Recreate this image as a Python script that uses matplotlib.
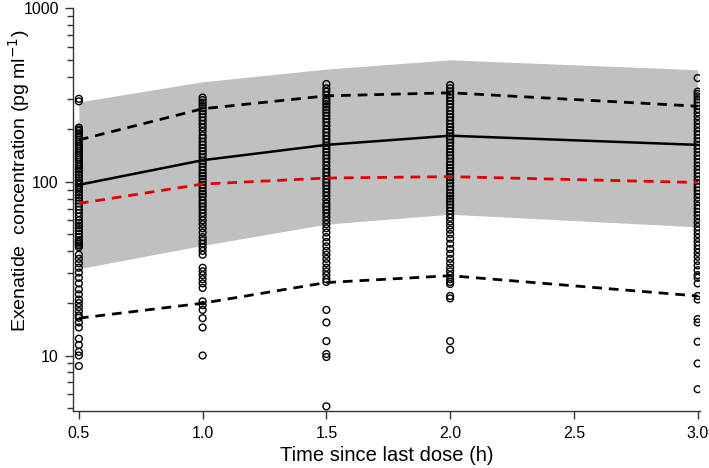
import numpy as np
import matplotlib
matplotlib.use('Agg')
import matplotlib.pyplot as plt
from matplotlib.ticker import LogLocator, NullFormatter, FixedLocator

plt.rcParams['font.family'] = ['Liberation Sans', 'DejaVu Sans']

# time points (h)
times = [0.5, 1.0, 1.5, 2.0, 3.0]

# prediction band and percentiles (pg/ml)
band_low = [31.6, 43, 57, 65, 55]
band_high = [288, 376, 445, 503, 441]
pct_median = [96, 133, 163, 184, 163]
pct_low = [16.4, 20, 26.3, 28.8, 22]
pct_high = [174, 263, 312, 325, 272]
pop_pred = [75, 97, 105, 107, 99]

# observed concentrations at each sampling time
obs_05 = [300, 290, 205, 200, 196, 190, 185, 180, 175, 170, 165, 160, 155, 150, 146,
          142, 138, 134, 130, 126, 122, 118, 114, 110, 106, 102, 99, 96, 93, 90, 87,
          84, 81, 78, 75, 72, 69, 66, 63, 60, 58, 56, 54, 52, 50, 48, 46, 45, 44, 43,
          42, 38, 36, 34, 32, 30, 28, 26, 24, 22.5, 21, 20, 19, 18, 17, 16.5, 15.5,
          14.5, 12.5, 11.5, 10.5, 10, 8.7]
obs_10 = [305, 295, 285, 275, 265, 255, 245, 235, 225, 215, 205, 195, 185, 178, 170,
          163, 156, 150, 144, 138, 132, 127, 122, 117, 112, 108, 104, 100, 96, 92, 88,
          85, 82, 78, 75, 72, 69, 66, 63, 60, 57, 54, 51, 48, 46, 44, 42, 40, 38,
          32, 30.5, 29, 27.5, 26, 24.5, 20.5, 19.5, 18.3, 16.4, 14.5, 10]
obs_15 = [365, 345, 330, 315, 300, 290, 280, 270, 260, 250, 240, 230, 220, 210, 200,
          192, 184, 176, 168, 161, 154, 148, 142, 136, 130, 124, 118, 113, 108, 103,
          99, 95, 91, 87, 83, 79, 75, 72, 69, 66, 63, 60, 57, 54, 51, 48, 45, 42.5,
          40, 38, 36, 34, 32, 30.5, 29, 27.5, 26.5, 18.3, 15.5, 12.1, 10.2, 9.8, 5.1]
obs_20 = [360, 345, 330, 318, 305, 292, 280, 268, 256, 245, 235, 225, 215, 206, 198,
          190, 182, 175, 168, 161, 154, 148, 142, 136, 130, 125, 120, 115, 110, 106,
          102, 98, 94, 90, 86, 83, 80, 77, 74, 71, 68, 65, 62, 59, 56, 53, 50, 47,
          44, 41, 38.5, 36, 34, 32, 30.5, 29, 27.5, 26.5, 25.8, 22, 21.3, 12.1, 10.8]
obs_30 = [395, 330, 320, 310, 298, 286, 274, 262, 250, 238, 226, 215, 205, 195, 186,
          178, 170, 162, 155, 148, 141, 135, 129, 123, 117, 112, 107, 102, 97, 93,
          89, 85, 81, 77, 73, 70, 67, 64, 61, 58, 55, 52.5, 50, 47.5, 45, 43, 41, 39,
          37, 35, 33, 31, 29, 28, 26, 22, 21, 16.2, 15.5, 12, 9, 6.4]
obs_all = [obs_05, obs_10, obs_15, obs_20, obs_30]

fig = plt.figure(figsize=(7.09, 4.68), dpi=100)
ax = fig.add_axes([0.1025, 0.122, 0.885, 0.861])

ax.fill_between(times, band_low, band_high, color='#c0c0c0', lw=0, zorder=1)

for t, obs in zip(times, obs_all):
    ax.scatter([t] * len(obs), obs, s=24, facecolors='none', edgecolors='black',
               linewidths=1.0, zorder=3)

ax.plot(times, pct_median, color='black', lw=1.8, zorder=4)
ax.plot(times, pct_high, color='black', lw=2, ls=(0, (3.5, 2.5)), zorder=4)
ax.plot(times, pct_low, color='black', lw=2, ls=(0, (3.5, 2.5)), zorder=4)
ax.plot(times, pop_pred, color='#e00000', lw=2, ls=(0, (3.5, 2.5)), zorder=4)

ax.set_yscale('log')
ax.set_ylim(4.8, 1000)
ax.set_xlim(0.475, 3.01)

ax.xaxis.set_major_locator(FixedLocator([0.5, 1.0, 1.5, 2.0, 2.5, 3.0]))
ax.set_xticklabels(['0.5', '1.0', '1.5', '2.0', '2.5', '3.0'])
ax.yaxis.set_major_locator(FixedLocator([10, 100, 1000]))
ax.set_yticklabels(['10', '100', '1000'])
ax.yaxis.set_minor_locator(LogLocator(base=10, subs=np.arange(2, 10)))
ax.yaxis.set_minor_formatter(NullFormatter())

for s in ['top', 'right']:
    ax.spines[s].set_visible(False)
for s in ['left', 'bottom']:
    ax.spines[s].set_color('#333333')
    ax.spines[s].set_linewidth(1.0)

ax.tick_params(axis='both', which='major', length=6, width=1, color='#333333',
               labelsize=11.5, pad=4)
ax.tick_params(axis='x', which='major', pad=5)
ax.tick_params(axis='y', which='minor', length=4, width=1, color='#333333')

ax.set_xlabel('Time since last dose (h)', fontsize=14.5)
ax.set_ylabel('Exenatide  concentration (pg ml$^{-1}$)', fontsize=14)
ax.xaxis.set_label_coords(0.5, -0.11)
ax.yaxis.set_label_coords(-0.0856, 0.571)
ax.xaxis.label.set_va('center')
ax.yaxis.label.set_va('center')

fig.savefig('out.png', dpi=100)
